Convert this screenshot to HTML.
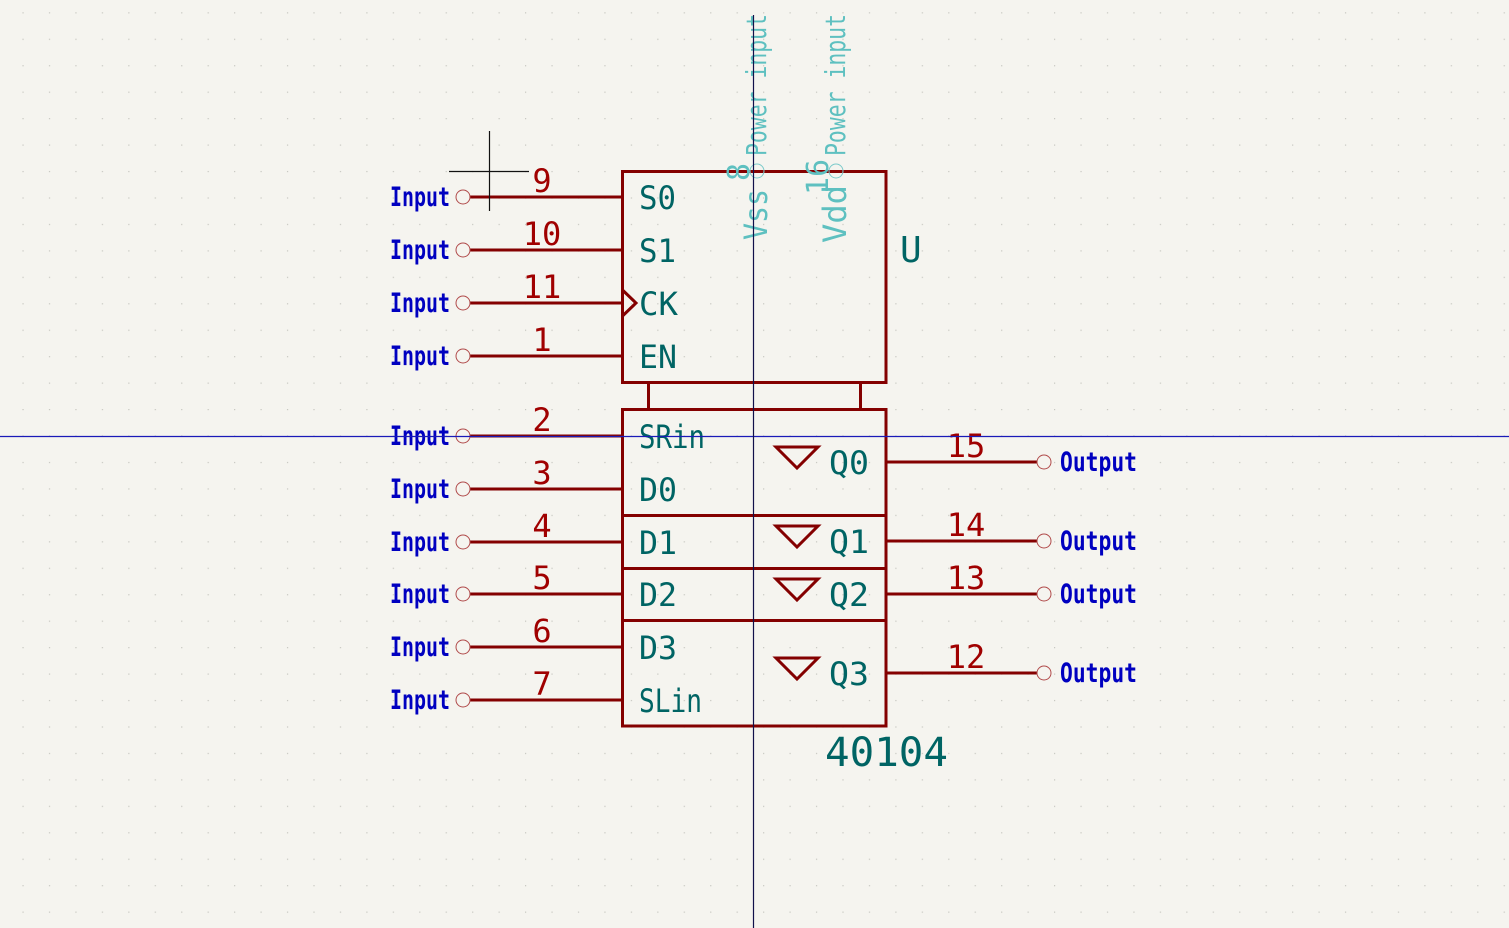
<!DOCTYPE html>
<html><head><meta charset="utf-8"><style>
html,body{margin:0;padding:0;background:#f5f4ef;}
svg{display:block;}
.mono{font-family:"DejaVu Sans Mono","Liberation Mono",monospace;}
</style></head><body>
<svg width="1509" height="928" viewBox="0 0 1509 928" xmlns="http://www.w3.org/2000/svg">
<defs>
<pattern id="grid" x="-4" y="-14.2" width="26.45" height="26.45" patternUnits="userSpaceOnUse">
<rect x="0" y="0" width="1.2" height="1.2" fill="#c6c6c0"/>
</pattern>
</defs>
<rect width="1509" height="928" fill="#f5f4ef"/>
<rect width="1509" height="928" fill="url(#grid)"/>

<g id="body" fill="none" stroke="#840000" stroke-width="3">
<rect x="622.5" y="171.5" width="263.5" height="211" />
<polyline points="622.5,382.5 648.5,382.5 648.5,409.5"/>
<polyline points="886,382.5 860.5,382.5 860.5,409.5"/>
<rect x="622.5" y="409.5" width="263.5" height="316.5"/>
<line x1="622.5" y1="515.5" x2="886" y2="515.5"/>
<line x1="622.5" y1="568.5" x2="886" y2="568.5"/>
<line x1="622.5" y1="620.5" x2="886" y2="620.5"/>
<polyline points="622.5,290 636,303 622.5,316"/>
</g>

<g id="pins"></g>

<text x="900" y="262" class="mono" font-size="36" fill="#006464">U</text>
<text x="825" y="766" class="mono" font-size="40" fill="#006464" textLength="123" lengthAdjust="spacingAndGlyphs">40104</text>

<g class="mono" fill="#5ec0c0">
<circle cx="757" cy="171" r="7" fill="none" stroke="#7ccaca" stroke-width="1"/>
<circle cx="836" cy="171" r="7" fill="none" stroke="#7ccaca" stroke-width="1"/>
<text transform="translate(766,156) rotate(-90)" font-size="28" textLength="142" lengthAdjust="spacingAndGlyphs">Power input</text>
<text transform="translate(845,156) rotate(-90)" font-size="28" textLength="142" lengthAdjust="spacingAndGlyphs">Power input</text>
<text transform="translate(749,181) rotate(-90)" font-size="30">8</text>
<text transform="translate(828,195) rotate(-90)" font-size="30">16</text>
<text transform="translate(767,240) rotate(-90)" font-size="32" textLength="51" lengthAdjust="spacingAndGlyphs">Vss</text>
<text transform="translate(846,243) rotate(-90)" font-size="32" textLength="58" lengthAdjust="spacingAndGlyphs">Vdd</text>
</g>

<line x1="0" y1="436.5" x2="1509" y2="436.5" stroke="#1a1ab8" stroke-width="1.2"/>
<line x1="753.5" y1="15" x2="753.5" y2="928" stroke="#10104a" stroke-width="1.2"/>
<g stroke="#111" stroke-width="1.2">
<line x1="449" y1="171.5" x2="529" y2="171.5"/>
<line x1="489.5" y1="131" x2="489.5" y2="211"/>
</g>

<script>
const leftNames = ["S0","S1","CK","EN","SRin","D0","D1","D2","D3","SLin"];
const leftNums = ["9","10","11","1","2","3","4","5","6","7"];
const leftY = [197,250,303,356,436,489,542,594,647,700];
const leftNameW = [37,37,39,38,66,38,38,38,38,63];
const rightNames = ["Q0","Q1","Q2","Q3"];
const rightNums = ["15","14","13","12"];
const rightY = [462,541,594,673];
const ns = "http://www.w3.org/2000/svg";
const g = document.getElementById('pins');
function mk(tag, attrs, txt){const e=document.createElementNS(ns,tag);for(const k in attrs)e.setAttribute(k,attrs[k]);if(txt!==undefined)e.textContent=txt;g.appendChild(e);return e;}
leftNames.forEach((n,i)=>{
  const y=leftY[i];
  const l=mk('line',{x1:470,y1:y,x2:622,y2:y,stroke:'#840000','stroke-width':3});
  
  
  const c=mk('circle',{cx:463,cy:y,r:7,fill:'none',stroke:'#b04a4a','stroke-width':1});
  
  
  const num=mk('text',{x:542,y:y-5,'text-anchor':'middle','font-size':32,fill:'#a00000','class':'mono'},leftNums[i]);
  
  
  const nm=mk('text',{x:639,y:y+12,'font-size':32,fill:'#006464','class':'mono',textLength:leftNameW[i],lengthAdjust:'spacingAndGlyphs'},n);
  
  
  const t=mk('text',{x:390,y:y+9,'font-size':27,'font-weight':'bold',fill:'#0000c0','class':'mono',textLength:60,lengthAdjust:'spacingAndGlyphs'},'Input');
  
  
});
rightNames.forEach((n,i)=>{
  const y=rightY[i];
  const l=mk('line',{x1:886,y1:y,x2:1037,y2:y,stroke:'#840000','stroke-width':3});
  
  
  const c=mk('circle',{cx:1044,cy:y,r:7,fill:'none',stroke:'#b04a4a','stroke-width':1});
  
  
  const num=mk('text',{x:966,y:y-5,'text-anchor':'middle','font-size':32,fill:'#a00000','class':'mono'},rightNums[i]);
  
  
  const nm=mk('text',{x:829,y:y+12,'font-size':32,fill:'#006464','class':'mono',textLength:40,lengthAdjust:'spacingAndGlyphs'},n);
  
  
  const tri=mk('polygon',{points:(776)+','+(y-15)+' '+(818)+','+(y-15)+' '+(797)+','+(y+6),fill:'none',stroke:'#840000','stroke-width':3});
  
  
  const t=mk('text',{x:1060,y:y+9,'font-size':27,'font-weight':'bold',fill:'#0000c0','class':'mono',textLength:77,lengthAdjust:'spacingAndGlyphs'},'Output');
  
  
});
</script>
</svg>
</body></html>
